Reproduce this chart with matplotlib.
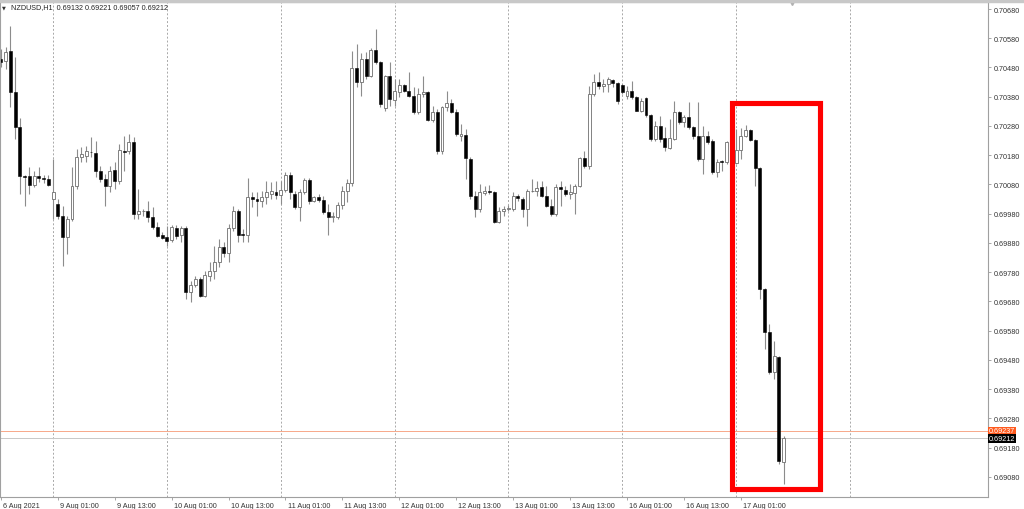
import matplotlib
matplotlib.use('Agg')
import matplotlib.pyplot as plt
import matplotlib.transforms as mtransforms
from matplotlib.patches import Rectangle
import numpy as np

plt.rcParams['font.family'] = ['Liberation Sans', 'DejaVu Sans']

# NZDUSD H1, 6 Aug 13:00 .. 17 Aug 10:00 (one value per hourly bar)
opens = [
    0.70509, 0.70502, 0.70536, 0.70396, 0.70276, 0.70109, 0.70109, 0.70078, 0.70109, 0.70102, 0.70099, 0.70030,
    0.70013, 0.69972, 0.69900, 0.69962, 0.70075, 0.70174, 0.70177, 0.70191, 0.70187, 0.70126, 0.70099, 0.70075,
    0.70129, 0.70092, 0.70194, 0.70194, 0.70225, 0.69979, 0.69989, 0.69989, 0.69969, 0.69934, 0.69907, 0.69900,
    0.69890, 0.69931, 0.69907, 0.69931, 0.69712, 0.69736, 0.69757, 0.69699, 0.69767, 0.69784, 0.69815, 0.69866,
    0.69846, 0.69931, 0.69989, 0.69910, 0.69907, 0.70037, 0.70030, 0.70023, 0.70037, 0.70047, 0.70054, 0.70044,
    0.70061, 0.70112, 0.70047, 0.70003, 0.70054, 0.70095, 0.70023, 0.70037, 0.70027, 0.69986, 0.69969, 0.69969,
    0.70010, 0.70058, 0.70085, 0.70478, 0.70430, 0.70509, 0.70451, 0.70540, 0.70499, 0.70341, 0.70451, 0.70369,
    0.70396, 0.70420, 0.70399, 0.70382, 0.70328, 0.70389, 0.70396, 0.70300, 0.70328, 0.70194, 0.70345, 0.70358,
    0.70328, 0.70246, 0.70249, 0.70167, 0.70040, 0.69996, 0.70051, 0.70058, 0.70054, 0.69952, 0.69989, 0.69996,
    0.69996, 0.70040, 0.70030, 0.69996, 0.70058, 0.70058, 0.70071, 0.70040, 0.70006, 0.69979, 0.70071, 0.70061,
    0.70047, 0.70051, 0.70075, 0.70170, 0.70143, 0.70389, 0.70430, 0.70417, 0.70423, 0.70437, 0.70427, 0.70420,
    0.70382, 0.70399, 0.70379, 0.70331, 0.70376, 0.70317, 0.70235, 0.70280, 0.70239, 0.70205, 0.70235, 0.70328,
    0.70293, 0.70311, 0.70276, 0.70246, 0.70167, 0.70246, 0.70229, 0.70123, 0.70160, 0.70157, 0.70225, 0.70153,
    0.70198, 0.70246, 0.70266, 0.70232, 0.70136, 0.69722, 0.69575, 0.69439, 0.69490, 0.69132,
]
highs = [
    0.70543, 0.70550, 0.70622, 0.70516, 0.70307, 0.70112, 0.70140, 0.70126, 0.70140, 0.70112, 0.70112, 0.70167,
    0.70030, 0.70006, 0.69972, 0.70140, 0.70201, 0.70208, 0.70211, 0.70242, 0.70229, 0.70143, 0.70116, 0.70143,
    0.70157, 0.70218, 0.70246, 0.70252, 0.70242, 0.70064, 0.69996, 0.70023, 0.70003, 0.69952, 0.69917, 0.69938,
    0.69941, 0.69941, 0.69938, 0.69938, 0.69750, 0.69767, 0.69764, 0.69784, 0.69815, 0.69870, 0.69893, 0.69883,
    0.69945, 0.70006, 0.69996, 0.69928, 0.70102, 0.70054, 0.70054, 0.70058, 0.70092, 0.70088, 0.70092, 0.70092,
    0.70123, 0.70123, 0.70058, 0.70064, 0.70102, 0.70102, 0.70040, 0.70047, 0.70040, 0.70013, 0.69986, 0.70020,
    0.70075, 0.70099, 0.70536, 0.70560, 0.70529, 0.70533, 0.70547, 0.70612, 0.70502, 0.70454, 0.70499, 0.70441,
    0.70441, 0.70423, 0.70465, 0.70413, 0.70410, 0.70451, 0.70399, 0.70348, 0.70338, 0.70348, 0.70399, 0.70372,
    0.70338, 0.70287, 0.70270, 0.70174, 0.70058, 0.70081, 0.70075, 0.70078, 0.70058, 0.70003, 0.70006, 0.70010,
    0.70054, 0.70047, 0.70037, 0.70064, 0.70099, 0.70092, 0.70092, 0.70075, 0.70030, 0.70081, 0.70092, 0.70075,
    0.70081, 0.70081, 0.70174, 0.70194, 0.70417, 0.70458, 0.70465, 0.70441, 0.70447, 0.70441, 0.70430, 0.70423,
    0.70417, 0.70434, 0.70382, 0.70376, 0.70379, 0.70321, 0.70297, 0.70314, 0.70276, 0.70304, 0.70365, 0.70331,
    0.70318, 0.70362, 0.70280, 0.70362, 0.70280, 0.70262, 0.70235, 0.70167, 0.70163, 0.70229, 0.70235, 0.70270,
    0.70273, 0.70283, 0.70270, 0.70235, 0.70140, 0.69726, 0.69603, 0.69544, 0.69493, 0.69221,
]
lows = [
    0.70482, 0.70475, 0.70345, 0.70235, 0.70047, 0.70006, 0.70047, 0.70071, 0.70088, 0.70085, 0.70075, 0.69962,
    0.69962, 0.69801, 0.69842, 0.69955, 0.70064, 0.70157, 0.70157, 0.70174, 0.70105, 0.70088, 0.70006, 0.70054,
    0.70064, 0.70081, 0.70126, 0.70184, 0.69962, 0.69962, 0.69972, 0.69952, 0.69928, 0.69900, 0.69893, 0.69870,
    0.69883, 0.69893, 0.69883, 0.69688, 0.69678, 0.69729, 0.69695, 0.69695, 0.69750, 0.69757, 0.69798, 0.69832,
    0.69815, 0.69921, 0.69883, 0.69883, 0.69883, 0.70003, 0.69972, 0.70003, 0.70013, 0.70030, 0.70030, 0.70013,
    0.70054, 0.70030, 0.69996, 0.69955, 0.70047, 0.70013, 0.70020, 0.70020, 0.69979, 0.69907, 0.69952, 0.69962,
    0.69996, 0.70020, 0.70075, 0.70413, 0.70382, 0.70441, 0.70447, 0.70492, 0.70345, 0.70331, 0.70348, 0.70348,
    0.70379, 0.70396, 0.70379, 0.70321, 0.70321, 0.70379, 0.70297, 0.70293, 0.70184, 0.70184, 0.70331, 0.70324,
    0.70246, 0.70229, 0.70099, 0.70030, 0.69969, 0.69986, 0.70044, 0.70047, 0.69948, 0.69948, 0.69972, 0.69989,
    0.69989, 0.70023, 0.69969, 0.69938, 0.70054, 0.70040, 0.70037, 0.70003, 0.69972, 0.69972, 0.70006, 0.70040,
    0.70030, 0.69979, 0.70071, 0.70136, 0.70133, 0.70382, 0.70406, 0.70396, 0.70396, 0.70413, 0.70355, 0.70389,
    0.70372, 0.70372, 0.70331, 0.70328, 0.70311, 0.70229, 0.70229, 0.70225, 0.70194, 0.70201, 0.70232, 0.70287,
    0.70276, 0.70270, 0.70235, 0.70160, 0.70116, 0.70218, 0.70116, 0.70105, 0.70126, 0.70150, 0.70147, 0.70150,
    0.70167, 0.70242, 0.70229, 0.70075, 0.69688, 0.69517, 0.69432, 0.69415, 0.69124, 0.69057,
]
closes = [
    0.70499, 0.70533, 0.70396, 0.70276, 0.70109, 0.70105, 0.70078, 0.70109, 0.70102, 0.70099, 0.70078, 0.70054,
    0.69972, 0.69900, 0.69962, 0.70075, 0.70174, 0.70184, 0.70194, 0.70190, 0.70126, 0.70099, 0.70075, 0.70126,
    0.70092, 0.70198, 0.70191, 0.70225, 0.69979, 0.69989, 0.69990, 0.69969, 0.69934, 0.69904, 0.69897, 0.69887,
    0.69934, 0.69904, 0.69931, 0.69712, 0.69736, 0.69757, 0.69699, 0.69770, 0.69784, 0.69815, 0.69866, 0.69846,
    0.69931, 0.69989, 0.69907, 0.69907, 0.70037, 0.70030, 0.70023, 0.70037, 0.70054, 0.70058, 0.70044, 0.70061,
    0.70112, 0.70054, 0.70003, 0.70054, 0.70095, 0.70023, 0.70037, 0.70027, 0.69986, 0.69969, 0.69972, 0.70010,
    0.70058, 0.70085, 0.70478, 0.70430, 0.70509, 0.70451, 0.70540, 0.70499, 0.70355, 0.70451, 0.70372, 0.70399,
    0.70420, 0.70399, 0.70382, 0.70328, 0.70389, 0.70396, 0.70300, 0.70328, 0.70194, 0.70345, 0.70358, 0.70328,
    0.70252, 0.70252, 0.70170, 0.70040, 0.69996, 0.70054, 0.70058, 0.70054, 0.69952, 0.69989, 0.69996, 0.69999,
    0.70040, 0.70034, 0.69996, 0.70058, 0.70058, 0.70068, 0.70040, 0.70006, 0.69979, 0.70071, 0.70064, 0.70047,
    0.70054, 0.70075, 0.70170, 0.70143, 0.70389, 0.70430, 0.70417, 0.70423, 0.70441, 0.70427, 0.70365, 0.70396,
    0.70399, 0.70379, 0.70331, 0.70365, 0.70317, 0.70235, 0.70280, 0.70235, 0.70208, 0.70239, 0.70328, 0.70293,
    0.70311, 0.70276, 0.70246, 0.70167, 0.70246, 0.70225, 0.70123, 0.70157, 0.70157, 0.70225, 0.70167, 0.70198,
    0.70246, 0.70266, 0.70232, 0.70136, 0.69722, 0.69575, 0.69439, 0.69493, 0.69134, 0.69212,
]

ask_price = 0.69237
symbol = 'NZDUSD,H1'

time_ticks = [0, 12, 24, 36, 48, 60, 72, 84, 96, 108, 120, 132, 144, 156]
time_labels = ['6 Aug 2021', '9 Aug 01:00', '9 Aug 13:00', '10 Aug 01:00', '10 Aug 13:00',
               '11 Aug 01:00', '11 Aug 13:00', '12 Aug 01:00', '12 Aug 13:00', '13 Aug 01:00',
               '13 Aug 13:00', '16 Aug 01:00', '16 Aug 13:00', '17 Aug 01:00']
day_separators = [11, 35, 59, 83, 107, 131, 155, 179]
price_ticks = [0.70680, 0.70580, 0.70480, 0.70380, 0.70280, 0.70180, 0.70080, 0.69980, 0.69880,
               0.69780, 0.69680, 0.69580, 0.69480, 0.69380, 0.69280, 0.69180, 0.69080]

# highlighted area (bars / prices)
box_x0, box_x1 = 154.2, 172.6
box_y0, box_y1 = 0.69037, 0.70357

o = np.array(opens)
h = np.array(highs)
l = np.array(lows)
c = np.array(closes)
idx = np.arange(len(o))
up = c >= o

fig = plt.figure(figsize=(10.24, 5.10), dpi=100)
ax = fig.add_axes([0, 12 / 510, 988 / 1024, 495 / 510])

for x in day_separators:
    ax.axvline(x, color='#a8a8a8', lw=0.7, ls=(0, (2, 2)), zorder=0)

ax.vlines(idx, l, h, color='#8c8c8c', lw=0.8, zorder=1)
body_h = np.maximum(np.abs(c - o), 0.000012)
bottoms = np.minimum(o, c)
ax.bar(idx[up], body_h[up], bottom=bottoms[up], width=0.62, color='white',
       edgecolor='#6e6e6e', linewidth=0.6, zorder=2)
ax.bar(idx[~up], body_h[~up], bottom=bottoms[~up], width=0.62, color='black',
       edgecolor='black', linewidth=0.4, zorder=2)

# bid / ask lines
ax.axhline(ask_price, color='#f7a889', lw=0.7, zorder=0)
ax.axhline(closes[-1], color='#c8c8c8', lw=0.7, zorder=0)

ax.add_patch(Rectangle((box_x0, box_y0), box_x1 - box_x0, box_y1 - box_y0,
                       fill=False, edgecolor='#ff0000', lw=3.7, zorder=5))

ax.set_xlim(-0.18, 208.1)
ax.set_ylim(0.69011, 0.70704)

ax.yaxis.tick_right()
ax.set_yticks(price_ticks)
ax.set_yticklabels(['%.5f' % p for p in price_ticks])
ax.tick_params(axis='y', direction='out', length=2.5, width=0.6, color='#999999',
               labelsize=5.2, labelcolor='#333333', pad=1.5)

ax.set_xticks(time_ticks)
ax.set_xticklabels(time_labels)
ax.tick_params(axis='x', direction='out', length=2.5, width=0.6, color='#999999',
               labelsize=5.2, labelcolor='#333333', pad=1.2)
shift = mtransforms.ScaledTranslation(1.5 / 72, 0, fig.dpi_scale_trans)
for lab in ax.get_xticklabels():
    lab.set_ha('left')
    lab.set_transform(lab.get_transform() + shift)

for s in ax.spines.values():
    s.set_color('#a0a0a0')
    s.set_linewidth(0.8)

# current price tags on the price scale
tag_x = 989 / 1024
for price, bg in [(ask_price, '#ff5a1e'), (closes[-1], '#000000')]:
    yf = ax.transData.transform((0, price))[1] / fig.bbox.height
    fig.text(tag_x, yf, '%.5f' % price, fontsize=5.2, color='white', va='center', ha='left',
             bbox=dict(boxstyle='square,pad=0.12', fc=bg, ec='none'))

# chart shift marker
ax.plot([166.8], [1.0], marker='v', ms=4, color='#b0b0b0',
        transform=mtransforms.blended_transform_factory(ax.transData, ax.transAxes),
        clip_on=False, zorder=6)

# header
fig.patches.append(Rectangle((0, 507 / 510), 1, 3 / 510, transform=fig.transFigure,
                             color='#c8c8c8', zorder=0))
fig.text(2 / 1024, 1 - 8 / 510, '\u25bc', fontsize=3.6, color='#333333', va='center',
         family=['DejaVu Sans'])
fig.text(11 / 1024, 1 - 7.5 / 510,
         '%s  %.5f %.5f %.5f %.5f' % (symbol, opens[-1], highs[-1], lows[-1], closes[-1]),
         fontsize=5.2, color='#222222', va='center')

fig.savefig('out.png', dpi=100)
